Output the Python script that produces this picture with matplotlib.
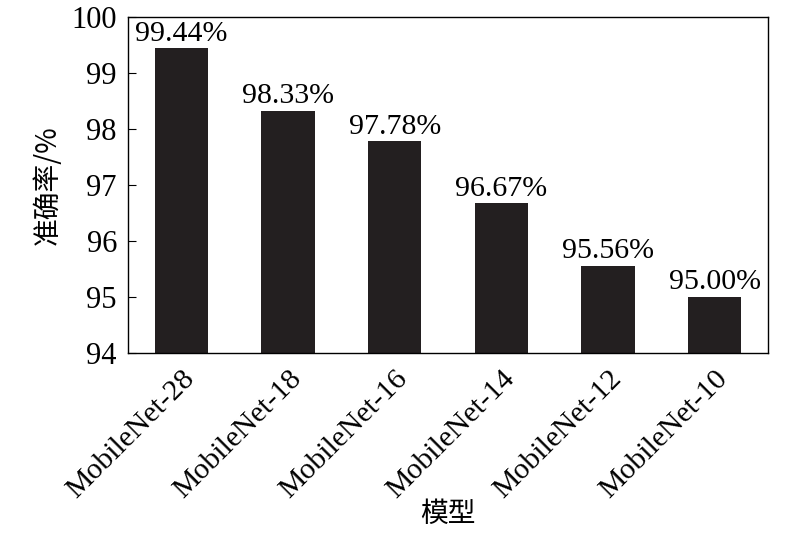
import matplotlib
matplotlib.use("Agg")
import matplotlib.pyplot as plt

models = ["MobileNet-28", "MobileNet-18", "MobileNet-16",
          "MobileNet-14", "MobileNet-12", "MobileNet-10"]
accuracy = [99.44, 98.33, 97.78, 96.67, 95.56, 95.00]
yticks = [94, 95, 96, 97, 98, 99, 100]

plt.rcParams['font.family'] = ['Liberation Serif', 'Noto Sans CJK SC']
plt.rcParams['font.size'] = 22

fig = plt.figure(figsize=(8, 5.34), dpi=100)
ax = fig.add_axes([128/800, 1-353/534, 640/800, 336/534])

x = range(len(models))
bars = ax.bar(x, accuracy, width=0.5, color="#231f20", bottom=0)
for xi, v in zip(x, accuracy):
    ax.text(xi, v + 0.03, "%.2f%%" % v, ha="center", va="bottom", fontsize=21.5)

ax.set_xlim(-0.5, len(models) - 0.5)
ax.set_ylim(94, 100)
ax.set_yticks(yticks)
ax.set_xticks(list(x))
ax.set_xticklabels(models, rotation=45, ha="right", rotation_mode="anchor")
ax.tick_params(axis="y", direction="in", length=6, labelsize=22, pad=8)
ax.tick_params(axis="x", length=0, labelsize=21.5, pad=9)
for s in ax.spines.values():
    s.set_linewidth(1.0)

ax.set_ylabel("准确率/%", family=['Noto Sans CJK SC'], fontsize=20, labelpad=6)
ax.set_xlabel("模型", family=['Noto Sans CJK SC'], fontsize=20, labelpad=-3)

fig.savefig("out.png", dpi=100)
